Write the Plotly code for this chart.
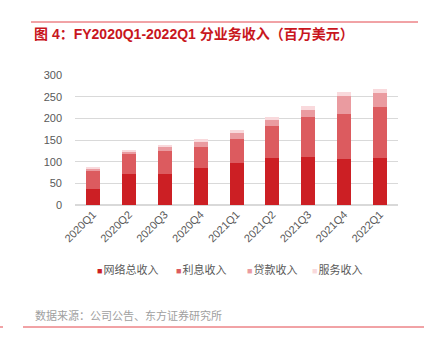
import plotly.graph_objects as go

categories = ["2020Q1", "2020Q2", "2020Q3", "2020Q4", "2021Q1", "2021Q2", "2021Q3", "2021Q4", "2022Q1"]
network_total = [37, 72, 72, 86, 98, 109, 110, 107, 109]
interest = [42, 46, 53, 49, 54, 74, 94, 104, 118]
loan = [6, 4, 10, 11, 16, 13, 16, 41, 31]
service = [2, 6, 3, 6, 4, 7, 9, 9, 10]
y_ticks = [0, 50, 100, 150, 200, 250, 300]

series = [
    ("网络总收入", network_total, "#CC1F24"),
    ("利息收入", interest, "#DC5B5F"),
    ("贷款收入", loan, "#EA9BA0"),
    ("服务收入", service, "#F9D9DC"),
]

W, H = 429, 341
L, R, T, B = 75, 31, 75, 136
pw, ph = W - L - R, H - T - B

def px(x):
    return (x - L) / pw

def py(y):
    return (H - B - y) / ph

legend_ids = ["legend", "legend2", "legend3", "legend4"]
legend_left = [57, 136, 207, 272]   # pixel positions of legend boxes

fig = go.Figure()
for name, vals, color in series:
    fig.add_trace(go.Bar(x=categories, y=vals, name=name, showlegend=False,
                         marker=dict(color=color, line=dict(width=0))))
for (name, vals, color), lid in zip(series, legend_ids):
    label = f'<span style="color:{color};font-size:9px">■</span><span style="font-size:4px"> </span>{name}'
    fig.add_trace(go.Scatter(x=[None], y=[None], mode="markers", name=label, legend=lid,
                             marker=dict(symbol="square", size=1, color="rgba(0,0,0,0)")))

font = "Liberation Sans, Noto Sans CJK SC, Arial, sans-serif"
fig.update_layout(
    width=W, height=H,
    margin=dict(l=L, r=R, t=T, b=B),
    barmode="stack",
    bargap=0.61,
    plot_bgcolor="white",
    paper_bgcolor="white",
    font=dict(family=font, size=11, color="#595959"),
    xaxis=dict(tickangle=-45, showgrid=False, showline=False, ticks="",
               tickfont=dict(size=11, color="#595959")),
    yaxis=dict(range=[0, 300], tickvals=y_ticks, showgrid=True, gridcolor="#D9D9D9", gridwidth=1,
               zeroline=True, zerolinecolor="#D9D9D9", showline=False, ticks="",
               ticklabelstandoff=12,
               tickfont=dict(size=11, color="#595959")),
    showlegend=True,
)
for lid, left in zip(legend_ids, legend_left):
    fig.update_layout({lid: dict(orientation="h", x=px(left), xanchor="left", y=py(270), yanchor="middle",
                                 font=dict(size=11, color="#595959"), itemwidth=30,
                                 bgcolor="rgba(0,0,0,0)")})

fig.add_shape(type="line", xref="paper", yref="paper", x0=px(31), x1=px(418), y0=py(22), y1=py(22),
              line=dict(color="#E3474C", width=1))
fig.add_shape(type="line", xref="paper", yref="paper", x0=px(23), x1=px(424), y0=py(327), y1=py(327),
              line=dict(color="#E3474C", width=1))
fig.add_shape(type="line", xref="paper", yref="paper", x0=px(0), x1=px(3), y0=py(327), y1=py(327),
              line=dict(color="#E3474C", width=1))

fig.add_annotation(text="<b>图 4：FY2020Q1-2022Q1 分业务收入（百万美元）</b>", xref="paper", yref="paper",
                   x=px(32), y=py(34), xanchor="left", yanchor="middle", showarrow=False,
                   font=dict(size=14, color="#C8161D", family=font))
fig.add_annotation(text="数据来源：公司公告、东方证券研究所", xref="paper", yref="paper",
                   x=px(33), y=py(315), xanchor="left", yanchor="middle", showarrow=False,
                   font=dict(size=11, color="#A0A0A0", family=font))

fig.write_html("out.html")
